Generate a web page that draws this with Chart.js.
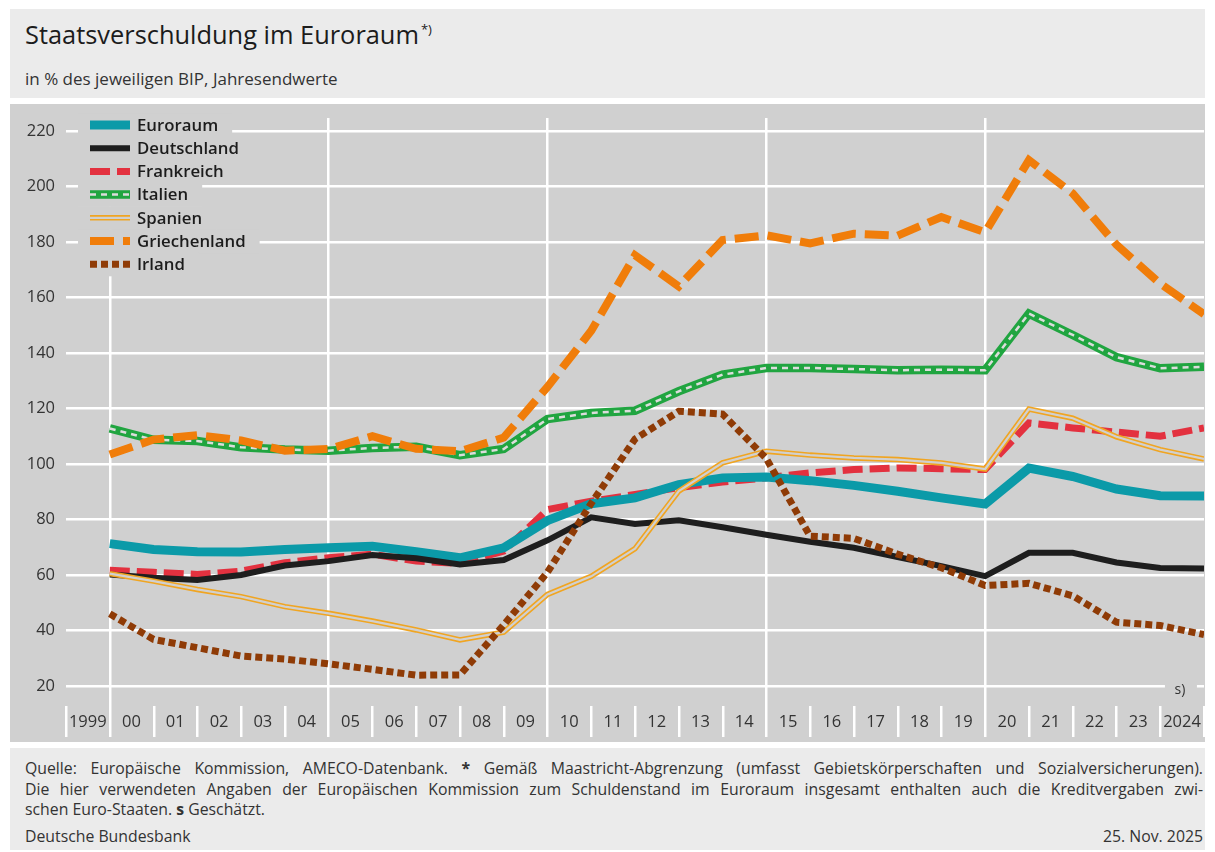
<!DOCTYPE html>
<html lang="de">
<head>
<meta charset="utf-8">
<title>Staatsverschuldung im Euroraum</title>
<script src="https://cdn.jsdelivr.net/npm/chart.js@4.4.1/dist/chart.umd.min.js"></script>
<style>
   html, body { margin: 0; padding: 0; background: #fff; }
   body { width: 1215px; height: 852px; position: relative; overflow: hidden; font-family: "Open Sans", "Noto Sans", sans-serif; color: #2b2b2b; }
   #head { position: absolute; left: 10px; top: 9px; width: 1195px; height: 89px; background: #ebebeb; }
   #title { position: absolute; left: 15px; top: 8px; font-size: 25.4px; font-weight: 500; color: #1c1c1c; white-space: nowrap; }
   #title sup { font-size: 13px; vertical-align: top; position: relative; top: 3px; margin-left: 2px; }
   #sub { position: absolute; left: 15px; top: 58px; font-size: 17px; color: #333; white-space: nowrap; }
   #panel { position: absolute; left: 10px; top: 104px; width: 1195px; height: 638px; background: #d0d0d0; }
   #foot { position: absolute; left: 10px; top: 748px; width: 1195px; height: 102px; background: #ebebeb; font-size: 15.8px; color: #333; }
   #foot .ln { position: absolute; left: 15px; width: 1178px; white-space: nowrap; line-height: 20px; }
   #foot .j { text-align: justify; text-align-last: justify; white-space: normal; }
   #foot .r { right: 2px; left: auto; width: auto; }
</style>
</head>
<body>
<div id="head">
   <div id="title">Staatsverschuldung im Euroraum<sup>*)</sup></div>
   <div id="sub">in % des jeweiligen BIP, Jahresendwerte</div>
</div>
<div id="panel"><canvas id="debtChart" width="1195" height="638"></canvas></div>
<div id="foot">
   <div class="ln j" style="top:10px">Quelle: Europäische Kommission, AMECO-Datenbank. <b>*</b> Gemäß Maastricht-Abgrenzung (umfasst Gebietskörperschaften und Sozialversicherungen).</div>
   <div class="ln j" style="top:31px">Die hier verwendeten Angaben der Europäischen Kommission zum Schuldenstand im Euroraum insgesamt enthalten auch die Kreditvergaben zwi-</div>
   <div class="ln" style="top:51px">schen Euro-Staaten. <b>s</b> Geschätzt.</div>
   <div class="ln" style="top:78px">Deutsche Bundesbank</div>
   <div class="ln r" style="top:78px">25. Nov. 2025</div>
</div>
<script>
// Jahresendwerte in % des BIP
const years = [1999, 2000, 2001, 2002, 2003, 2004, 2005, 2006, 2007, 2008, 2009, 2010, 2011,
   2012, 2013, 2014, 2015, 2016, 2017, 2018, 2019, 2020, 2021, 2022, 2023, 2024];
const euroraum     = [71.3, 69.2, 68.4, 68.3, 69.2, 69.8, 70.4, 68.4, 66.2, 69.8, 79.6, 85.7, 87.8, 92.6, 95.0, 95.3, 94.0, 92.3, 90.2, 87.8, 85.6, 98.5, 95.5, 91.0, 88.6, 88.5];
const deutschland  = [60.2, 59.0, 58.2, 60.0, 63.4, 65.0, 67.2, 66.0, 63.8, 65.4, 72.5, 80.8, 78.4, 79.7, 77.2, 74.5, 72.0, 69.8, 66.5, 63.2, 59.6, 68.0, 68.0, 64.5, 62.5, 62.3];
const frankreich   = [61.7, 61.0, 60.2, 61.4, 64.4, 66.2, 67.5, 65.0, 64.2, 68.6, 83.6, 86.6, 89.0, 91.5, 93.5, 95.0, 96.8, 98.0, 98.6, 98.3, 98.0, 114.8, 113.0, 111.5, 110.0, 113.0];
const italien      = [112.8, 108.7, 108.3, 106.0, 105.2, 104.8, 105.8, 106.2, 103.2, 105.4, 116.2, 118.4, 119.2, 126.2, 132.2, 134.6, 134.6, 134.2, 133.8, 134.0, 133.8, 154.2, 146.5, 138.5, 134.5, 135.0];
const spanien      = [60.5, 57.8, 54.8, 52.2, 48.6, 46.2, 43.4, 40.2, 36.6, 39.4, 53.0, 59.5, 69.5, 90.2, 100.4, 104.6, 103.2, 102.2, 101.6, 100.4, 98.2, 119.8, 116.5, 109.8, 105.2, 101.8];
const griechenland = [103.4, 108.8, 110.4, 108.5, 104.8, 105.4, 110.0, 105.5, 104.6, 109.5, 127.8, 148.0, 175.2, 164.0, 180.7, 182.4, 179.5, 183.0, 182.3, 189.0, 183.5, 209.5, 197.5, 179.0, 165.0, 154.0];
const irland       = [46.0, 36.8, 33.8, 30.8, 29.7, 28.0, 26.0, 23.9, 24.0, 42.0, 61.0, 85.8, 109.0, 119.0, 118.0, 102.0, 74.0, 73.2, 67.5, 62.6, 56.2, 57.0, 52.5, 43.0, 41.8, 38.5];

const yTicks = [20, 40, 60, 80, 100, 120, 140, 160, 180, 200, 220];
const xTicks = [1998, 1999, 2000, 2001, 2002, 2003, 2004, 2005, 2006, 2007, 2008, 2009, 2010, 2011,
   2012, 2013, 2014, 2015, 2016, 2017, 2018, 2019, 2020, 2021, 2022, 2023, 2024];
const majorYears = [1999, 2004, 2009, 2014, 2019];
const estimateNote = "s)";

const PLOT_BG = "#d0d0d0";
const AXIS_FONT = { family: "'Open Sans', sans-serif", size: 16.5 };

function series(values) {
   return years.map((x, i) => ({ x, y: values[i] }));
}

function xLabel(v) {
   if (v === 1999 || v === 2024) return String(v);
   if (v < 1999) return "";
   return String(v % 100).padStart(2, "0");
}

const isMajor = c => !!(c.tick && majorYears.includes(c.tick.value));

const datasets = [
   { label: "Euroraum", data: series(euroraum), borderColor: "#0b9aa8", borderWidth: 9, order: 6 },
   { label: "Deutschland", data: series(deutschland), borderColor: "#1e1e1e", borderWidth: 6, order: 5 },
   { label: "Frankreich", data: series(frankreich), borderColor: "#e3313f", borderWidth: 7, borderDash: [20, 7], order: 7 },
   { label: "Italien", data: series(italien), borderColor: "#20a540", borderWidth: 8.5, order: 4.5 },
   { label: "Italien", overlay: true, data: series(italien), borderColor: "#dcdcdc", borderWidth: 2.5, borderDash: [6, 5], order: 4 },
   { label: "Spanien", data: series(spanien), borderColor: "#f0a522", borderWidth: 5.5, order: 3.5 },
   { label: "Spanien", overlay: true, data: series(spanien), borderColor: PLOT_BG, borderWidth: 2.2, order: 3 },
   { label: "Griechenland", data: series(griechenland), borderColor: "#f07d0a", borderWidth: 8, borderDash: [24, 9], order: 2 },
   { label: "Irland", data: series(irland), borderColor: "#8f3b06", borderWidth: 7, borderDash: [7, 4], order: 1 },
];

// kurze Jahresstriche unten und Markierung "s)"
const tickMarks = {
   id: "tickMarks",
   beforeDatasetsDraw(chart) {
      const { ctx, chartArea, scales } = chart;
      ctx.save();
      ctx.strokeStyle = "#fff";
      ctx.lineWidth = 2.5;
      xTicks.filter(v => !majorYears.includes(v)).forEach(v => {
         const x = Math.round(scales.x.getPixelForValue(v)) + 0.25;
         ctx.beginPath();
         ctx.moveTo(x, chartArea.bottom + 20);
         ctx.lineTo(x, chartArea.bottom + 51);
         ctx.stroke();
      });
      const nx = scales.x.getPixelForValue(2023.45);
      const ny = scales.y.getPixelForValue(20);
      ctx.fillStyle = PLOT_BG;
      ctx.fillRect(nx - 15, ny - 6, 32, 16);
      ctx.fillStyle = "#333";
      ctx.font = "14px 'Open Sans', sans-serif";
      ctx.textAlign = "center";
      ctx.textBaseline = "middle";
      ctx.fillText(estimateNote, nx, ny + 4);
      ctx.restore();
   },
};

// Legende oben links, im Diagramm
const inlineLegend = {
   id: "inlineLegend",
   afterDatasetsDraw(chart) {
      const { ctx, chartArea } = chart;
      const sets = chart.data.datasets;
      const entries = sets.filter(d => !d.overlay);
      const x0 = chartArea.left + 24, x1 = x0 + 40, tx = x1 + 7;
      const rowH = 23.2;
      ctx.save();
      ctx.font = "600 16.8px 'Open Sans', sans-serif";
      ctx.textBaseline = "middle";
      entries.forEach((e, i) => {
         const y = chartArea.top + 7 + i * rowH;
         const w = ctx.measureText(e.label).width;
         ctx.fillStyle = PLOT_BG;
         ctx.fillRect(chartArea.left + 12, y - rowH / 2, tx - chartArea.left - 12 + w + 14, rowH + 0.5);
         sets.filter(d => d.label === e.label).forEach(d => {
            ctx.beginPath();
            ctx.setLineDash(d.borderDash || []);
            ctx.lineWidth = d.borderWidth;
            ctx.strokeStyle = d.borderColor;
            ctx.moveTo(x0, y);
            ctx.lineTo(x1, y);
            ctx.stroke();
         });
         ctx.setLineDash([]);
         ctx.fillStyle = "#1c1c1c";
         ctx.fillText(e.label, tx, y + 1);
      });
      ctx.restore();
   },
};

new Chart(document.getElementById("debtChart"), {
   type: "line",
   data: { datasets },
   plugins: [tickMarks, inlineLegend],
   options: {
      responsive: false,
      animation: false,
      layout: { padding: { top: 14, right: 1, left: 0, bottom: 0 } },
      elements: {
         point: { radius: 0, hoverRadius: 0 },
         line: { tension: 0, borderCapStyle: "butt", borderJoinStyle: "miter", fill: false },
      },
      plugins: { legend: { display: false }, tooltip: { enabled: false } },
      scales: {
         x: {
            type: "linear",
            min: 1998,
            max: 2024,
            afterBuildTicks: s => { s.ticks = xTicks.map(value => ({ value })); },
            afterFit: s => { s.height = 56; s.paddingLeft = 0; s.paddingRight = 0; },
            border: { display: false },
            grid: {
               drawTicks: true,
               tickLength: 51,
               lineWidth: 2.5,
               tickWidth: 2.5,
               color: c => isMajor(c) ? "#fff" : "rgba(0,0,0,0)",
               tickColor: c => isMajor(c) ? "#fff" : "rgba(0,0,0,0)",
            },
            ticks: {
               autoSkip: false,
               maxRotation: 0,
               padding: -25,
               labelOffset: -22,
               color: "#333",
               font: AXIS_FONT,
               callback: v => xLabel(v),
            },
         },
         y: {
            min: 20,
            max: 224.68,
            afterBuildTicks: s => { s.ticks = yTicks.map(value => ({ value })); },
            afterFit: s => { s.width = 56; s.paddingTop = 0; s.paddingBottom = 0; },
            border: { display: false },
            grid: { drawTicks: false, lineWidth: 2.5, color: "#fff" },
            ticks: { padding: 11, color: "#333", font: AXIS_FONT },
         },
      },
   },
});
</script>
</body>
</html>
